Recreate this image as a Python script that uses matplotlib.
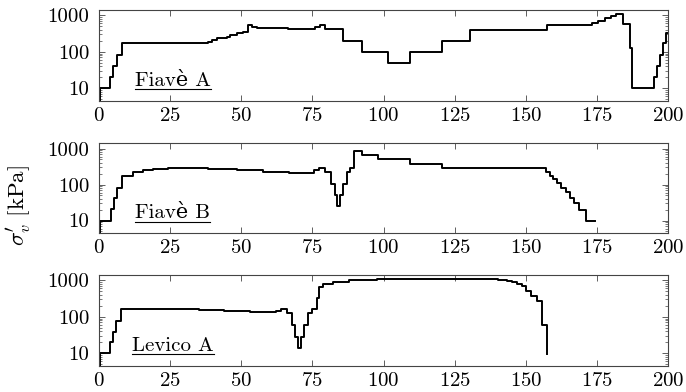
import numpy as np
import matplotlib
matplotlib.use("Agg")
import matplotlib.pyplot as plt
from matplotlib.lines import Line2D

plt.rcParams['font.family'] = 'serif'
plt.rcParams['font.serif'] = ['cmr10']
plt.rcParams['mathtext.fontset'] = 'cm'
plt.rcParams['axes.formatter.use_mathtext'] = True
plt.rcParams['font.size'] = 15

# depth [m] where each step starts, vertical effective stress [kPa]
fa_z = [0.0, 0.35, 3.9, 5.0, 6.2, 8.2, 38.4, 39.6, 41.4, 43.1, 44.9, 46.0, 48.4, 50.7,
        52.5, 53.7, 55.4, 66.5, 75.9, 77.7, 79.4, 85.9, 92.5, 101.5, 109.3, 120.7,
        130.4, 157.4, 173.2, 175.5, 177.9, 179.9, 181.7, 184.3, 186.6, 187.4, 195.1,
        196.2, 197.2, 198.1, 199.2, 201.0]
fa_s = [1, 10, 20, 40, 80, 170, 181, 209, 233, 242, 258, 287, 319,
        354, 540, 480, 455, 410, 480, 550, 410, 200, 100, 50, 100, 200,
        395, 540, 625, 710, 820, 950, 1055, 575, 124, 10, 20,
        40, 80, 170, 320, 320]

fb_z = [0.0, 0.35, 4.1, 5.3, 6.2, 8.2, 12.1, 15.4, 19.1, 24.4, 38.4, 48.4, 57.8, 66.8,
        75.6, 77.5, 79.4, 81.4, 82.9, 83.8, 84.7, 85.9, 87.0, 88.2, 89.7, 92.3, 98.1,
        109.3, 120.7, 157.1, 158.6, 159.7, 160.9, 162.3, 164.2, 165.5, 167.1, 168.7,
        171.1, 174.3]
fb_s = [1, 10, 21, 41, 81, 169, 217, 247, 263, 280, 263, 247, 227, 213,
        247, 287, 217, 104, 50, 25.5, 50, 104, 217, 287, 870, 660, 505,
        383, 280, 217, 176, 143, 111, 81, 62, 41, 30, 20,
        10, 10]

la_z = [0.0, 0.35, 3.9, 4.8, 6.0, 7.7, 35.0, 44.1, 53.1, 62.1, 63.9, 66.0, 67.8, 69.0,
        70.1, 71.1, 72.1, 73.6, 75.0, 76.6, 77.4, 78.9, 82.1, 87.7, 97.7, 140.4,
        143.3, 145.1, 146.8, 148.6, 150.0, 151.8, 154.1, 155.6, 157.4]
la_s = [1, 10, 20, 39, 78, 160, 152, 143, 132, 146, 163, 124, 59, 28,
        13.6, 28, 59, 124, 163, 318, 661, 770, 910, 1010, 1120, 1010,
        950, 875, 790, 695, 515, 376, 270, 59, 9.5]

sites = [(fa_z, fa_s, 'Fiavè A'),
         (fb_z, fb_s, 'Fiavè B'),
         (la_z, la_s, 'Levico A')]

fig = plt.figure(figsize=(6.86, 3.92), dpi=100)
boxes = [(0.7423, 0.9745), (0.4056, 0.6344), (0.0663, 0.2985)]
labels = []
for (z, s, name), (b, t) in zip(sites, boxes):
    ax = fig.add_axes([0.1443, b, 0.9738 - 0.1443, t - b])
    ax.step(z, s, where='post', color='black', lw=1.4)
    ax.set_yscale('log')
    ax.set_xlim(0, 200)
    ax.set_ylim(4.5, 1400)
    ax.set_xticks([0, 25, 50, 75, 100, 125, 150, 175, 200])
    ax.set_yticks([10, 100, 1000])
    ax.set_yticklabels(['10', '100', '1000'])
    ax.tick_params(which='both', direction='in', top=True, right=True, color='#444444')
    ax.tick_params(which='major', length=4.5, width=0.6)
    ax.tick_params(axis='x', which='major', pad=4)
    ax.tick_params(axis='y', which='major', pad=7)
    ax.tick_params(which='minor', length=2.5, width=0.5)
    ax.tick_params(axis='x', which='minor', bottom=False, top=False)
    for sp in ax.spines.values():
        sp.set_linewidth(0.8)
        sp.set_color('#444444')
    lab = ax.text(26, 0.22, name, transform=ax.get_xaxis_transform(),
                  ha='center', va='center', family=['cmr10', 'DejaVu Serif'])
    labels.append((ax, lab))

fig.text(0.028, 0.477, r"$\sigma^{\prime}_{v}$ [kPa]", rotation=90, ha='center', va='center',
         fontsize=16.5)

# underline the site names
fig.canvas.draw()
r = fig.canvas.get_renderer()
inv = fig.transFigure.inverted()
for ax, lab in labels:
    bb = lab.get_window_extent(r)
    (x0, y0), (x1, _) = inv.transform([(bb.x0, bb.y0 + 0.5), (bb.x1, bb.y0 + 0.5)])
    fig.add_artist(Line2D([x0, x1], [y0, y0], transform=fig.transFigure, color='black', lw=0.8))

fig.savefig('out.png', dpi=100)
